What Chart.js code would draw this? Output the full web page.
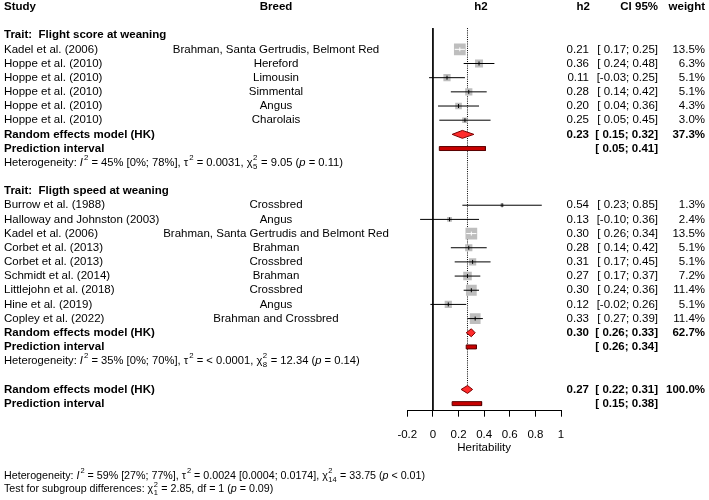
<!DOCTYPE html>
<html><head><meta charset="utf-8">
<script src="https://cdn.jsdelivr.net/npm/chart.js@4/dist/chart.umd.min.js"></script>
<style>html,body{margin:0;padding:0;background:#fff}canvas{display:block}</style>
</head><body>
<canvas id="c" width="709" height="500"></canvas>
<script>
// ---------- data ----------
const trait1 = 'Trait:  Flight score at weaning';
const studies1 = ['Kadel et al. (2006)','Hoppe et al. (2010)','Hoppe et al. (2010)','Hoppe et al. (2010)','Hoppe et al. (2010)','Hoppe et al. (2010)'];
const breeds1 = ['Brahman, Santa Gertrudis, Belmont Red','Hereford','Limousin','Simmental','Angus','Charolais'];
const h2_1 = [0.21,0.36,0.11,0.28,0.20,0.25];
const lo1  = [0.17,0.24,-0.03,0.14,0.04,0.05];
const hi1  = [0.25,0.48,0.25,0.42,0.36,0.45];
const w1   = [13.5,6.3,5.1,5.1,4.3,3.0];

const trait2 = 'Trait:  Fligth speed at weaning';
const studies2 = ['Burrow et al. (1988)','Halloway and Johnston (2003)','Kadel et al. (2006)','Corbet et al. (2013)','Corbet et al. (2013)','Schmidt et al. (2014)','Littlejohn et al. (2018)','Hine et al. (2019)','Copley et al. (2022)'];
const breeds2 = ['Crossbred','Angus','Brahman, Santa Gertrudis and Belmont Red','Brahman','Crossbred','Brahman','Crossbred','Angus','Brahman and Crossbred'];
const h2_2 = [0.54,0.13,0.30,0.28,0.31,0.27,0.30,0.12,0.33];
const lo2  = [0.23,-0.10,0.26,0.14,0.17,0.17,0.24,-0.02,0.27];
const hi2  = [0.85,0.36,0.34,0.42,0.45,0.37,0.36,0.26,0.39];
const w2   = [1.3,2.4,13.5,5.1,5.1,7.2,11.4,5.1,11.4];

// random effects: group1, group2, overall
const reEst = [0.23,0.30,0.27];
const reLo  = [0.15,0.26,0.22];
const reHi  = [0.32,0.33,0.31];
const reW   = [37.3,62.7,100.0];
const piLo  = [0.05,0.26,0.15];
const piHi  = [0.41,0.34,0.38];

const tickValues = [-0.2,0,0.2,0.4,0.6,0.8,1];
const tickLabels = ['-0.2','0','0.2','0.4','0.6','0.8','1'];
const xTitle = 'Heritability';

// ---------- row layout ----------
const rowTrait = [0, 11];
const rows1 = studies1.map((_, i) => 1 + i);
const rows2 = studies2.map((_, i) => 12 + i);
const rowRE = [7, 21, 25];
const rowPI = [8, 22, 26];
const rowHet = [9, 23];

const allEst = h2_1.concat(h2_2), allLo = lo1.concat(lo2), allHi = hi1.concat(hi2);
const allW = w1.concat(w2), allRows = rows1.concat(rows2);

const PX_PER_UNIT = 128.3;
const sidePx = allW.map(w => 3.19 * Math.sqrt(w));
const inside = allLo.map((lo, i) => (allHi[i] - lo) * PX_PER_UNIT <= sidePx[i]);

function segData(sel) {
  const d = [];
  allEst.forEach((e, i) => { if (sel(i)) { d.push({x: allLo[i], y: allRows[i]}, {x: allHi[i], y: allRows[i]}, {x: NaN, y: NaN}); } });
  return d;
}
function diamond(k) {
  const r = rowRE[k], h = 0.28;
  return [{x: reLo[k], y: r}, {x: reEst[k], y: r - h}, {x: reHi[k], y: r}, {x: reEst[k], y: r + h}, {x: reLo[k], y: r}];
}
function predBar(k) {
  const r = rowPI[k], h = 0.14;
  return [{x: piLo[k], y: r - h}, {x: piHi[k], y: r - h}, {x: piHi[k], y: r + h}, {x: piLo[k], y: r + h}, {x: piLo[k], y: r - h}];
}
const lineDs = (data, o) => Object.assign({type: 'line', data, pointRadius: 0, tension: 0, showLine: true, spanGaps: false, fill: false}, o);

const datasets = [
  lineDs([{x: 0, y: -0.5}, {x: 0, y: 26.5}], {borderColor: '#000', borderWidth: 1, order: 20}),
  lineDs([{x: reEst[2], y: -0.5}, {x: reEst[2], y: rowRE[2]}], {borderColor: '#000', borderWidth: 1, borderDash: [1, 1.2], order: 19}),
  {type: 'scatter', data: allEst.map((e, i) => ({x: e, y: allRows[i]})), pointStyle: 'rect',
   pointRadius: sidePx.map(s => s / (2 * Math.SQRT1_2)), backgroundColor: '#BEBEBE', borderWidth: 0, order: 15},
  lineDs(segData(i => !inside[i]), {borderColor: '#000', borderWidth: 1, order: 14}),
  lineDs(segData(i => inside[i]), {borderColor: '#fff', borderWidth: 1, order: 13}),
  {type: 'scatter', data: allEst.map((e, i) => ({x: e, y: allRows[i]})), pointStyle: 'line', pointRotation: 90,
   pointRadius: 2, borderWidth: 1, borderColor: inside.map(v => v ? '#fff' : '#000'), order: 12},
];
[0, 1, 2].forEach(k => {
  datasets.push(lineDs(diamond(k), {borderColor: '#7a0000', borderWidth: 1, backgroundColor: '#FF2B2B', fill: 'shape', order: 5}));
  datasets.push(lineDs(predBar(k), {borderColor: '#5a0000', borderWidth: 1, backgroundColor: '#C80000', fill: 'shape', order: 5}));
});

// ---------- text ----------
const FF = '"Liberation Sans", Arial, Helvetica, sans-serif';
const fnt = (s, b, it) => (it ? 'italic ' : '') + (b ? 'bold ' : '') + s + 'px ' + FF;
const fmtCI = (lo, hi) => '[' + (lo < 0 ? lo.toFixed(2) : ' ' + lo.toFixed(2)) + '; ' + hi.toFixed(2) + ']';

function rich(ctx, x, y, parts, size) {
  ctx.textAlign = 'left'; ctx.textBaseline = 'middle';
  let cx = x;
  parts.forEach(p => {
    const [t, k] = p;
    if (k === 'i' || k === 'n') {
      ctx.font = fnt(size, false, k === 'i'); ctx.fillText(t, cx, y); cx += ctx.measureText(t).width;
    } else if (k === 'sup') {
      ctx.font = fnt(size * 0.7, false, false); ctx.fillText(t, cx + 1, y - size * 0.45); cx += ctx.measureText(t).width + 1;
    } else if (k === 'ss') {
      ctx.font = fnt(size * 0.7, false, false);
      ctx.fillText(t[0], cx + 0.5, y - size * 0.45); ctx.fillText(t[1], cx + 0.5, y + size * 0.35);
      cx += Math.max(ctx.measureText(t[0]).width, ctx.measureText(t[1]).width) + 1;
    }
  });
}

const het1 = [['Heterogeneity: ', 'n'], ['I', 'i'], ['2', 'sup'], [' = 45% [0%; 78%], τ', 'n'], ['2', 'sup'], [' = 0.0031, χ', 'n'], [['2', '5'], 'ss'], [' = 9.05 (', 'n'], ['p', 'i'], [' = 0.11)', 'n']];
const het2 = [['Heterogeneity: ', 'n'], ['I', 'i'], ['2', 'sup'], [' = 35% [0%; 70%], τ', 'n'], ['2', 'sup'], [' = < 0.0001, χ', 'n'], [['2', '8'], 'ss'], [' = 12.34 (', 'n'], ['p', 'i'], [' = 0.14)', 'n']];
const hetAll = [['Heterogeneity: ', 'n'], ['I', 'i'], ['2', 'sup'], [' = 59% [27%; 77%], τ', 'n'], ['2', 'sup'], [' = 0.0024 [0.0004; 0.0174], χ', 'n'], [['2', '14'], 'ss'], [' = 33.75 (', 'n'], ['p', 'i'], [' < 0.01)', 'n']];
const subgr = [['Test for subgroup differences: χ', 'n'], [['2', '1'], 'ss'], [' = 2.85, df = 1 (', 'n'], ['p', 'i'], [' = 0.09)', 'n']];

const textPlugin = {
  id: 'forestText',
  afterDraw(chart) {
    const ctx = chart.ctx, ys = chart.scales.y;
    const Y = r => ys.getPixelForValue(r);
    const S = 11.5;
    ctx.save();
    ctx.fillStyle = '#000'; ctx.textBaseline = 'middle';
    const t = (s, x, y, align, bold, size) => { ctx.font = fnt(size || S, bold); ctx.textAlign = align; ctx.fillText(s, x, y); };
    // headers
    const hy = Y(-2);
    t('Study', 4, hy, 'left', true); t('Breed', 276, hy, 'center', true); t('h2', 481, hy, 'center', true);
    t('h2', 590, hy, 'right', true); t('CI 95%', 658, hy, 'right', true); t('weight', 705, hy, 'right', true);
    t(trait1, 4, Y(rowTrait[0]), 'left', true);
    t(trait2, 4, Y(rowTrait[1]), 'left', true);
    const studyRows = (st, br, e, lo, hi, w, rows) => st.forEach((s, i) => {
      const y = Y(rows[i]);
      t(s, 4, y, 'left'); t(br[i], 276, y, 'center');
      t(e[i].toFixed(2), 589, y, 'right'); t(fmtCI(lo[i], hi[i]), 658, y, 'right'); t(w[i].toFixed(1) + '%', 705, y, 'right');
    });
    studyRows(studies1, breeds1, h2_1, lo1, hi1, w1, rows1);
    studyRows(studies2, breeds2, h2_2, lo2, hi2, w2, rows2);
    [0, 1, 2].forEach(k => {
      const y = Y(rowRE[k]), yp = Y(rowPI[k]);
      t('Random effects model (HK)', 4, y, 'left', true);
      t(reEst[k].toFixed(2), 589, y, 'right', true); t(fmtCI(reLo[k], reHi[k]), 658, y, 'right', true); t(reW[k].toFixed(1) + '%', 705, y, 'right', true);
      t('Prediction interval', 4, yp, 'left', true);
      t(fmtCI(piLo[k], piHi[k]), 658, yp, 'right', true);
    });
    rich(ctx, 4, Y(rowHet[0]), het1, 11.2);
    rich(ctx, 4, Y(rowHet[1]), het2, 11.2);
    rich(ctx, 4, 476, hetAll, 10.7);
    rich(ctx, 4, 489.5, subgr, 10.7);
    ctx.restore();
  }
};

new Chart(document.getElementById('c'), {
  type: 'scatter',
  data: {datasets},
  plugins: [textPlugin],
  options: {
    responsive: false, animation: false, devicePixelRatio: 1,
    layout: {padding: {left: 407.3, right: 148, top: 21, bottom: 45.4}},
    plugins: {legend: {display: false}, tooltip: {enabled: false}, filler: {drawTime: 'beforeDatasetDraw'}},
    scales: {
      x: {type: 'linear', min: tickValues[0], max: tickValues[tickValues.length - 1],
          afterBuildTicks: s => { s.ticks = tickValues.map(v => ({value: v})); },
          afterFit: s => { s.height = 43.9; },
          ticks: {color: '#000', font: {size: 11.5, family: FF}, padding: 11, maxRotation: 0, autoSkip: false,
                  callback: (v, i) => tickLabels[i]},
          grid: {drawOnChartArea: false, drawTicks: true, tickLength: 6, color: '#000', tickWidth: 1},
          border: {display: true, color: '#000', width: 1},
          title: {display: true, text: xTitle, color: '#000', font: {size: 11.5, family: FF}, padding: {top: 0, bottom: 0}}},
      y: {type: 'linear', reverse: true, min: -1, max: 26.5, display: false}
    }
  }
});
</script>
</body></html>
